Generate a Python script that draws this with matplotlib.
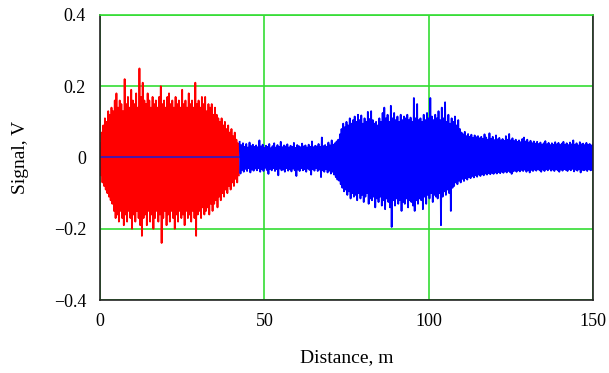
import numpy as np
import matplotlib
matplotlib.use("Agg")
import matplotlib.pyplot as plt

# --- data -----------------------------------------------------------------
# peak values (V) every 0.5 m; upper peaks at d, lower peaks at d + 0.25
red_start, red_end = 0.0, 42.0
red_upper = [
    0.04, 0.07, 0.09, 0.11, 0.10, 0.13, 0.12, 0.14, 0.13, 0.16,
    0.18, 0.14, 0.16, 0.15, 0.13, 0.22, 0.15, 0.17, 0.14, 0.19,
    0.16, 0.15, 0.18, 0.14, 0.25, 0.17, 0.21, 0.16, 0.15, 0.18,
    0.16, 0.14, 0.17, 0.15, 0.16, 0.14, 0.17, 0.20, 0.15, 0.16,
    0.14, 0.17, 0.18, 0.15, 0.16, 0.14, 0.17, 0.15, 0.16, 0.14,
    0.19, 0.15, 0.16, 0.14, 0.18, 0.15, 0.16, 0.14, 0.21, 0.15,
    0.16, 0.14, 0.17, 0.15, 0.17, 0.13, 0.15, 0.14, 0.15, 0.12,
    0.14, 0.12, 0.11, 0.10, 0.11, 0.09, 0.10, 0.08, 0.09, 0.07,
    0.08, 0.06, 0.07, 0.05, 0.04,
]
red_lower = [
    -0.05, -0.07, -0.08, -0.09, -0.10, -0.11, -0.12, -0.13, -0.15, -0.17,
    -0.16, -0.18, -0.15, -0.17, -0.19, -0.16, -0.18, -0.15, -0.17, -0.20,
    -0.16, -0.18, -0.15, -0.17, -0.19, -0.22, -0.17, -0.16, -0.19, -0.15,
    -0.18, -0.16, -0.20, -0.17, -0.15, -0.18, -0.16, -0.24, -0.17, -0.15,
    -0.19, -0.16, -0.18, -0.15, -0.17, -0.20, -0.16, -0.18, -0.15, -0.17,
    -0.16, -0.19, -0.15, -0.17, -0.16, -0.18, -0.15, -0.17, -0.22, -0.16,
    -0.15, -0.17, -0.14, -0.16, -0.15, -0.14, -0.16, -0.13, -0.15, -0.13,
    -0.12, -0.14, -0.11, -0.12, -0.10, -0.11, -0.09, -0.10, -0.08, -0.09,
    -0.07, -0.08, -0.06, -0.07, -0.05,
]

blue_start, blue_end = 42.5, 150.0
blue_upper = [
    0.044, 0.035, 0.040, 0.030, 0.038, 0.028, 0.042, 0.032, 0.036, 0.030,
    0.034, 0.029, 0.048, 0.031, 0.036, 0.027, 0.033, 0.030, 0.038, 0.026,
    0.032, 0.040, 0.028, 0.035, 0.030, 0.044, 0.029, 0.034, 0.031, 0.037,
    0.028, 0.033, 0.030, 0.041, 0.027, 0.035, 0.032, 0.029, 0.039, 0.031,
    0.034, 0.028, 0.036, 0.030, 0.045, 0.029, 0.033, 0.031, 0.038, 0.030,
    0.056, 0.032, 0.035, 0.030, 0.042, 0.034, 0.048, 0.036, 0.040, 0.045,
    0.050, 0.065, 0.080, 0.095, 0.085, 0.100, 0.090, 0.110, 0.095, 0.105,
    0.115, 0.100, 0.120, 0.105, 0.118, 0.095, 0.110, 0.100, 0.128, 0.108,
    0.130, 0.105, 0.095, 0.100, 0.090, 0.110, 0.100, 0.125, 0.140, 0.110,
    0.120, 0.100, 0.145, 0.110, 0.125, 0.105, 0.115, 0.100, 0.120, 0.105,
    0.115, 0.110, 0.120, 0.105, 0.112, 0.100, 0.167, 0.110, 0.150, 0.105,
    0.110, 0.100, 0.120, 0.105, 0.125, 0.110, 0.167, 0.115, 0.105, 0.120,
    0.110, 0.130, 0.105, 0.140, 0.110, 0.155, 0.100, 0.120, 0.095, 0.110,
    0.100, 0.115, 0.090, 0.105, 0.080, 0.070, 0.065, 0.072, 0.060, 0.066,
    0.058, 0.064, 0.055, 0.062, 0.057, 0.060, 0.054, 0.058, 0.052, 0.065,
    0.056, 0.050, 0.068, 0.052, 0.058, 0.049, 0.062, 0.051, 0.055, 0.048,
    0.052, 0.047, 0.060, 0.050, 0.066, 0.048, 0.054, 0.046, 0.050, 0.044,
    0.048, 0.043, 0.052, 0.056, 0.045, 0.050, 0.042, 0.047, 0.040, 0.045,
    0.039, 0.044, 0.038, 0.042, 0.036, 0.040, 0.046, 0.037, 0.041, 0.035,
    0.040, 0.036, 0.043, 0.037, 0.041, 0.035, 0.039, 0.044, 0.036, 0.040,
    0.035, 0.042, 0.037, 0.048, 0.036, 0.040, 0.034, 0.043, 0.037, 0.039,
    0.035, 0.041, 0.036, 0.038, 0.034, 0.037,
]
blue_lower = [
    -0.045, -0.035, -0.040, -0.032, -0.038, -0.030, -0.042, -0.034, -0.037, -0.031,
    -0.036, -0.030, -0.040, -0.033, -0.038, -0.029, -0.035, -0.046, -0.032, -0.036,
    -0.030, -0.038, -0.033, -0.050, -0.031, -0.036, -0.034, -0.040, -0.030, -0.037,
    -0.033, -0.039, -0.031, -0.036, -0.052, -0.034, -0.038, -0.030, -0.036, -0.033,
    -0.040, -0.031, -0.035, -0.048, -0.033, -0.037, -0.030, -0.038, -0.034, -0.055,
    -0.036, -0.040, -0.033, -0.042, -0.037, -0.045, -0.040, -0.048, -0.055, -0.062,
    -0.065, -0.075, -0.085, -0.095, -0.090, -0.105, -0.095, -0.115, -0.100, -0.110,
    -0.105, -0.120, -0.100, -0.115, -0.105, -0.125, -0.110, -0.100, -0.130, -0.115,
    -0.120, -0.110, -0.140, -0.115, -0.125, -0.110, -0.135, -0.120, -0.145, -0.115,
    -0.125, -0.140, -0.195, -0.120, -0.135, -0.115, -0.130, -0.120, -0.150, -0.125,
    -0.130, -0.115, -0.140, -0.120, -0.125, -0.135, -0.150, -0.120, -0.130, -0.115,
    -0.120, -0.145, -0.110, -0.130, -0.105, -0.115, -0.100, -0.125, -0.105, -0.110,
    -0.115, -0.100, -0.190, -0.110, -0.095, -0.105, -0.090, -0.100, -0.150, -0.085,
    -0.080, -0.070, -0.075, -0.065, -0.070, -0.060, -0.066, -0.058, -0.062, -0.055,
    -0.058, -0.052, -0.056, -0.050, -0.054, -0.048, -0.052, -0.047, -0.050, -0.045,
    -0.048, -0.044, -0.047, -0.043, -0.046, -0.042, -0.045, -0.041, -0.044, -0.040,
    -0.043, -0.039, -0.042, -0.038, -0.041, -0.046, -0.039, -0.037, -0.040, -0.036,
    -0.039, -0.035, -0.038, -0.034, -0.040, -0.036, -0.042, -0.035, -0.038, -0.034,
    -0.037, -0.033, -0.036, -0.040, -0.034, -0.038, -0.033, -0.036, -0.032, -0.037,
    -0.034, -0.038, -0.033, -0.036, -0.040, -0.034, -0.037, -0.033, -0.035, -0.038,
    -0.033, -0.036, -0.032, -0.039, -0.034, -0.037, -0.033, -0.042, -0.035, -0.036,
    -0.034, -0.038, -0.033, -0.036, -0.035, -0.034,
]

# blue trace is flat zero under the red part
blue_zero_x = [0.0, 42.0]
blue_zero_y = [0.0, 0.0]

x_ticks = [0, 50, 100, 150]
y_ticks = [-0.4, -0.2, 0.0, 0.2, 0.4]
y_tick_labels = ["\u22120.4", "\u22120.2", "0", "0.2", "0.4"]


def trace(start, end, upper, lower):
    # interleave upper and lower peaks into one signal trace
    d = np.linspace(start, end, len(upper))
    x = np.empty(2 * len(d))
    y = np.empty(2 * len(d))
    x[0::2], x[1::2] = d, d + 0.25
    y[0::2], y[1::2] = upper, lower
    return x, y


plt.rcParams["font.family"] = ["Liberation Serif", "DejaVu Serif"]

fig = plt.figure(figsize=(6.09, 3.73), dpi=100)
ax = fig.add_axes([0.1642, 0.1957, 0.8095, 0.7641])

green = "#33dd33"
ax.set_xlim(0, 150)
ax.set_ylim(-0.4, 0.4)
ax.set_xticks(x_ticks)
ax.set_yticks(y_ticks)
ax.set_yticklabels(y_tick_labels)
ax.grid(True, color=green, linewidth=1.2)
ax.set_axisbelow(True)
ax.tick_params(length=0, labelsize=13)
ax.tick_params(axis="x", pad=9)
ax.tick_params(axis="y", pad=10)

for side in ("left", "bottom", "right"):
    ax.spines[side].set_color("#222222")
    ax.spines[side].set_linewidth(1.2)
ax.spines["top"].set_color(green)
ax.spines["top"].set_linewidth(1.2)

rx, ry = trace(red_start, red_end, red_upper, red_lower)
bx, by = trace(blue_start, blue_end, blue_upper, blue_lower)
ax.plot(rx, ry, color="#ff0000", linewidth=1.3)
ax.plot(bx, by, color="#0000ff", linewidth=1.3)
ax.plot(blue_zero_x, blue_zero_y, color="#3a1ab8", linewidth=1.3)

ax.set_xlabel("Distance, m", fontsize=14, labelpad=14)
ax.set_ylabel("Signal, V", fontsize=14, labelpad=18)

fig.savefig("out.png", dpi=100)
